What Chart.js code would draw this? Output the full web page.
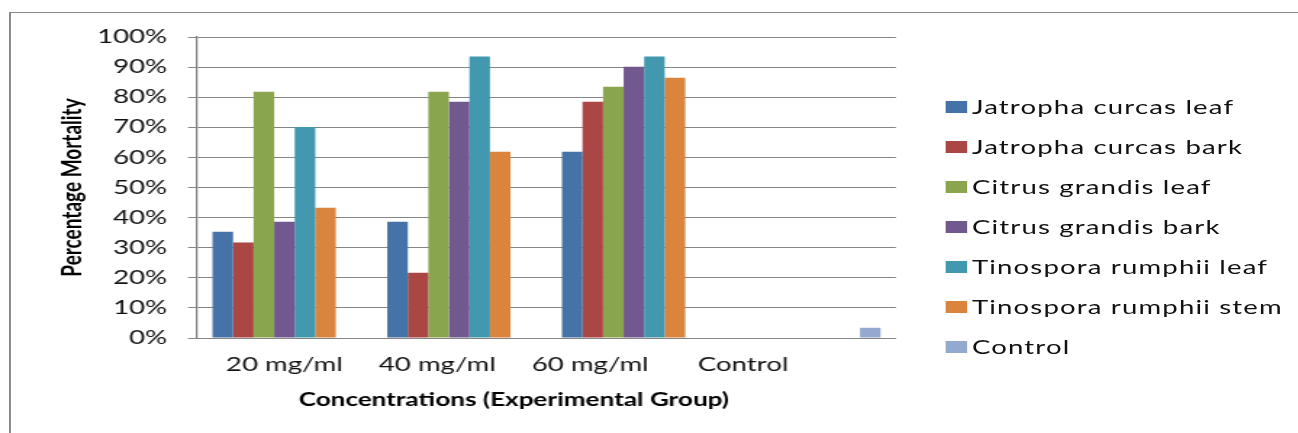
<!DOCTYPE html>
<html>
<head>
<meta charset="utf-8">
<title>Percentage Mortality by Concentration</title>
<script src="https://cdn.jsdelivr.net/npm/chart.js@4.4.1/dist/chart.umd.min.js"></script>
<style>
  html, body { margin: 0; padding: 0; background: #fff; overflow: hidden; }
  body { width: 1298px; height: 433px; position: relative; }
  #frame {
    position: absolute; left: 9px; top: 12px; width: 1400px; height: 500px;
    border-left: 2px solid #8a8a8a; border-top: 1px solid #8a8a8a;
  }
  /* the whole figure is laid out narrow and widened to the page */
  #stage {
    position: absolute; left: 0; top: 0; width: 896px; height: 433px;
    transform: scaleX(1.45); transform-origin: 0 0;
  }
  #legend { position: absolute; left: 652.4px; top: 86.7px; font: 19px Lato, sans-serif; color: #111; letter-spacing: 0.8px; }
  #legend .row { height: 40px; display: flex; align-items: center; white-space: nowrap; }
  #legend .sw { width: 14.5px; height: 12px; margin-right: 3.4px; flex: none; }
</style>
</head>
<body>
<div id="frame"></div>
<div id="stage">
  <canvas id="chart"></canvas>
  <div id="legend"></div>
</div>
<script>
// Categories on the x axis
const categories = ['20 mg/ml', '40 mg/ml', '60 mg/ml', 'Control'];

// Percentage mortality per extract (null where a group has no bar)
const jatrophaLeaf   = [35.3, 38.6, 61.9, null];
const jatrophaBark   = [31.7, 21.7, 78.5, null];
const citrusLeaf     = [81.8, 81.8, 83.5, null];
const citrusBark     = [38.6, 78.5, 90.1, null];
const tinosporaLeaf  = [70.1, 93.5, 93.5, null];
const tinosporaStem  = [43.3, 61.9, 86.5, null];
const controlGroup   = [null, null, null, 3.4];

const seriesNames = [
  'Jatropha curcas leaf', 'Jatropha curcas bark', 'Citrus grandis leaf',
  'Citrus grandis bark', 'Tinospora rumphii leaf', 'Tinospora rumphii stem', 'Control'
];
const seriesValues = [jatrophaLeaf, jatrophaBark, citrusLeaf, citrusBark, tinosporaLeaf, tinosporaStem, controlGroup];
const seriesColors = ['#4572A7', '#AA4643', '#89A54E', '#71588F', '#4198AF', '#DB843D', '#93A9CF'];

const yTickValues = [0, 10, 20, 30, 40, 50, 60, 70, 80, 90, 100];
const yTickLabels = yTickValues.map(v => v + '%');

const xTitle = 'Concentrations (Experimental Group)';
const yTitle = 'Percentage Mortality';

const gridGray = '#868686';
const labelSpread = 0.875;   // category labels sit a little tighter than the bar groups

// Category labels and the x-axis title are drawn on a slightly tighter spacing
const tightLabels = {
  id: 'tightLabels',
  beforeDraw(chart) {
    const items = chart.scales.x.getLabelItems();
    if (!items.length || items.tightened) return;
    const x0 = items[0].options.translation[0];
    items.forEach(it => {
      const t = it.options.translation;
      t[0] = x0 + labelSpread * (t[0] - x0);
    });
    items.tightened = true;
  },
  afterDraw(chart) {
    const { ctx, chartArea, scales: { x } } = chart;
    const x0 = x.getPixelForValue(0);
    const mid = (chartArea.left + chartArea.right) / 2;
    ctx.save();
    ctx.font = 'bold 18px Lato, sans-serif';
    ctx.fillStyle = '#000';
    ctx.textAlign = 'center';
    ctx.textBaseline = 'middle';
    ctx.fillText(xTitle, x0 + labelSpread * (mid - x0), x.bottom - 33);
    ctx.restore();
  }
};

const chart = new Chart(document.getElementById('chart'), {
  type: 'bar',
  data: {
    labels: categories,
    datasets: seriesNames.map((name, i) => ({
      label: name,
      data: seriesValues[i],
      backgroundColor: seriesColors[i],
      borderWidth: 0,
      categoryPercentage: 7 / 8.5,
      barPercentage: 1
    }))
  },
  options: {
    responsive: true,
    maintainAspectRatio: false,
    animation: false,
    layout: { padding: { left: 0, top: 37, right: 278.1, bottom: 0 } },
    plugins: {
      legend: { display: false },
      tooltip: { enabled: false }
    },
    scales: {
      x: {
        grid: { display: false, drawTicks: false },
        border: { color: gridGray, width: 1 },
        ticks: {
          padding: 15.6,
          color: '#111',
          font: { family: 'Lato', size: 19 },
          maxRotation: 0,
          autoSkip: false
        },
        afterFit(scale) { scale.height = 95; }
      },
      y: {
        min: 0,
        max: 100,
        afterBuildTicks(scale) { scale.ticks = yTickValues.map(v => ({ value: v })); },
        ticks: {
          padding: 14.5,
          color: '#111',
          font: { family: 'Lato', size: 19 },
          callback: (v) => yTickLabels[yTickValues.indexOf(v)]
        },
        grid: { color: gridGray, lineWidth: 1, tickLength: 6.2, tickColor: gridGray },
        border: { color: gridGray, width: 1.3 },
        title: {
          display: true,
          text: yTitle,
          color: '#000',
          font: { family: 'Lato', size: 19, weight: 'bold' },
          padding: { top: 38.3, bottom: 0 }
        },
        afterFit(scale) { scale.width = 135.9; }
      }
    }
  },
  plugins: [tightLabels]
});

// Legend list built from the chart's own legend items
const legendBox = document.getElementById('legend');
Chart.defaults.plugins.legend.labels.generateLabels(chart).forEach(item => {
  const row = document.createElement('div');
  row.className = 'row';
  const sw = document.createElement('span');
  sw.className = 'sw';
  sw.style.background = item.fillStyle;
  const txt = document.createElement('span');
  txt.textContent = item.text;
  row.appendChild(sw);
  row.appendChild(txt);
  legendBox.appendChild(row);
});
</script>
</body>
</html>
